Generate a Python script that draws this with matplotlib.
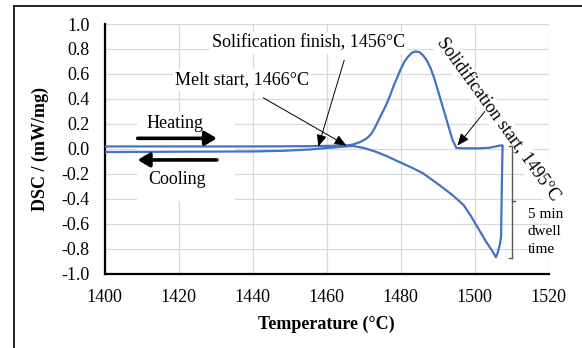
import matplotlib
matplotlib.use("Agg")
import matplotlib.pyplot as plt
from matplotlib.patches import Rectangle
from matplotlib.lines import Line2D

plt.rcParams['font.family'] = ['Liberation Serif', 'DejaVu Serif']

# heating run: temperature (°C) and DSC signal (mW/mg)
heating_T = [1400, 1420, 1440, 1455, 1461, 1465, 1466, 1467, 1468, 1469, 1470, 1471,
             1472, 1473, 1474, 1475, 1476, 1477, 1478, 1479, 1480, 1481, 1482, 1483,
             1484, 1485, 1486, 1487, 1488, 1489, 1490, 1491, 1492, 1493, 1494, 1495,
             1497, 1501.4, 1504, 1506.8, 1507.5]
heating_dsc = [0.02, 0.02, 0.02, 0.022, 0.025, 0.028, 0.03, 0.035, 0.045, 0.055, 0.07, 0.09,
               0.12, 0.17, 0.23, 0.29, 0.35, 0.42, 0.5, 0.57, 0.64, 0.7, 0.74, 0.77,
               0.78, 0.775, 0.75, 0.71, 0.65, 0.57, 0.47, 0.37, 0.27, 0.17, 0.07, 0.008,
               0.005, 0.005, 0.01, 0.027, 0.027]

# dwell drop + cooling run
cooling_T = [1507.5, 1507.3, 1507.1, 1506.8, 1506.3, 1505.7, 1505, 1503, 1501, 1499,
             1497, 1494, 1490, 1486, 1483, 1480, 1476, 1473, 1470, 1467, 1461, 1455,
             1448, 1440, 1420, 1400]
cooling_dsc = [0.027, -0.3, -0.7, -0.76, -0.82, -0.867, -0.83, -0.74, -0.64, -0.54,
               -0.45, -0.37, -0.28, -0.195, -0.15, -0.11, -0.055, -0.02, 0.008, 0.024,
               0.01, -0.005, -0.015, -0.02, -0.022, -0.025]

x_ticks = [1400, 1420, 1440, 1460, 1480, 1500, 1520]
y_ticks = [-1.0, -0.8, -0.6, -0.4, -0.2, 0.0, 0.2, 0.4, 0.6, 0.8, 1.0]

blue = '#4472C4'
grid_c = '#d9d9d9'

fig = plt.figure(figsize=(5.82, 3.48), dpi=100)
ax = fig.add_axes([0.180, 0.213, 0.763, 0.718])

ax.set_xlim(1400, 1520)
ax.set_ylim(-1.0, 1.0)
ax.set_xticks(x_ticks)
ax.set_yticks(y_ticks)
ax.set_yticklabels([f'{v:.1f}' for v in y_ticks])
ax.grid(True, color=grid_c, lw=0.9, zorder=0)
ax.set_axisbelow(True)
ax.tick_params(length=0, labelsize=13)
ax.tick_params(axis='y', pad=11)
ax.tick_params(axis='x', pad=11)
for s in ['top', 'right']:
    ax.spines[s].set_visible(False)
for s in ['left', 'bottom']:
    ax.spines[s].set_linewidth(1.6)
    ax.spines[s].set_color('black')

ax.set_xlabel('Temperature (°C)', fontsize=13, fontweight='bold', labelpad=7)
ax.set_ylabel('DSC / (mW/mg)', fontsize=13, fontweight='bold', labelpad=9)

# white box behind heating / cooling labels
ax.add_patch(Rectangle((1408.6, -0.416), 26.5, 0.712, facecolor='white',
                       edgecolor='none', zorder=1))

ax.plot(heating_T, heating_dsc, color=blue, lw=1.6, zorder=3)
ax.plot(cooling_T, cooling_dsc, color=blue, lw=1.6, zorder=3)

# direction arrows
arrow_style = dict(arrowstyle='-|>,head_length=0.5,head_width=0.3', color='black',
                   lw=2.6, mutation_scale=14, shrinkA=0, shrinkB=0)
ax.annotate('', xy=(1430.3, 0.085), xytext=(1408.9, 0.085), arrowprops=arrow_style, zorder=4)
ax.annotate('', xy=(1408.9, -0.088), xytext=(1430.3, -0.088), arrowprops=arrow_style, zorder=4)
ax.text(1419.1, 0.205, 'Heating', fontsize=13, ha='center', va='center', zorder=4)
ax.text(1419.6, -0.243, 'Cooling', fontsize=13, ha='center', va='center', zorder=4)

# event annotations
thin = dict(arrowstyle='-|>,head_length=0.6,head_width=0.25', color='black', lw=0.7,
            mutation_scale=12, shrinkA=0, shrinkB=0)
box = dict(facecolor='white', edgecolor='none', pad=1.5)

ax.annotate('', xy=(1457.7, 0.018), xytext=(1464.7, 0.71), arrowprops=thin, zorder=5)
ax.text(1455.1, 0.848, 'Solification finish, 1456°C', fontsize=13, ha='center',
        va='center', bbox=box, zorder=4)

ax.annotate('', xy=(1465.3, 0.027), xytext=(1442.8, 0.41), arrowprops=thin, zorder=5)
ax.text(1437.2, 0.552, 'Melt start, 1466°C', fontsize=13, ha='center', va='center',
        bbox=box, zorder=4)

ax.annotate('', xy=(1495.3, 0.027), xytext=(1502.7, 0.30), arrowprops=thin, zorder=5)
ax.text(1506.2, 0.24, 'Solidification start, 1495°C', fontsize=13, ha='center',
        va='center', rotation=-54, rotation_mode='anchor', bbox=box, zorder=4,
        clip_on=False)

# dwell bracket
grey = '#595959'
bx, btop, bbot, bmid = 1510.1, 0.024, -0.875, -0.42
ax.plot([bx, bx], [btop, bbot], color=grey, lw=1.0, zorder=4, clip_on=False)
ax.plot([bx - 0.8, bx], [btop, btop], color=grey, lw=1.0, zorder=4, clip_on=False)
ax.plot([bx - 0.8, bx], [bbot, bbot], color=grey, lw=1.0, zorder=4, clip_on=False)
ax.plot([bx, bx + 0.8], [bmid, bmid], color=grey, lw=1.0, zorder=4, clip_on=False)
ax.text(1514.3, -0.664, '5 min\ndwell\ntime', fontsize=11, ha='left', va='center',
        linespacing=1.45, zorder=4, clip_on=False)

# partial chart frame (top and left edges)
fig.add_artist(Line2D([14 / 582, 1.0], [1 - 6 / 348, 1 - 6 / 348], color='black',
                      lw=1.2, transform=fig.transFigure))
fig.add_artist(Line2D([14 / 582, 14 / 582], [0, 1 - 6 / 348], color='black',
                      lw=1.2, transform=fig.transFigure))

fig.savefig('out.png', dpi=100)
